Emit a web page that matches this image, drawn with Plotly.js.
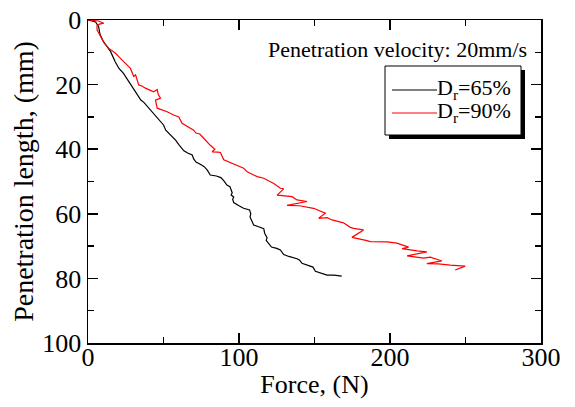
<!DOCTYPE html>
<html>
<head>
<meta charset="utf-8">
<script src="https://cdn.plot.ly/plotly-3.0.1.min.js"></script>
<style>html,body{margin:0;padding:0;background:#fff;}#chart{width:575px;height:407px;}</style>
</head>
<body>
<div id="chart"></div>
<script>
// Dr = 65 %
const force65 = [0,3,5,7,8,10,12,15,18,20.5,23.5,27,29,32.5,35,37,39,41,43.5,45,48,50,51.5,54,56,58,60,62,63.5,66,69,70,71.5,74,77,79,81,85,88,90,92,94,95.5,94.8,96.5,95.8,96.5,100,103,107,107.8,107.3,108.5,109.7,113,116.4,117,118.6,118,120.8,121.5,125,127.4,129.6,133,138.4,140,141.7,145,147.3,149,150.6,153,154.5,158.3,163,168];
const depth65 = [0,0.3,0.6,2,4.5,6.5,7.8,9.8,12.9,15,16.5,19.1,20.6,23.2,24.8,25.5,26.6,27.5,29,29.6,31.3,32.5,34.1,35.2,36.2,37.2,38.5,39.8,40.5,41.2,41.8,43,44,44.6,45.4,46.5,48,48.3,48.8,49.8,51.1,51.6,53.5,54.2,54.8,55.5,56.5,57.5,58.3,58.8,60,61,62.4,63.5,64,64.6,66,67.4,68.2,69.7,70.3,70.7,71.2,72.6,73.2,73.9,74.3,75.3,75.8,76.3,76.5,77.8,78.2,78.5,79,79,79.3];
// Dr = 90 %
const force90 = [0,4,7,10.5,8,6,6,7.2,9,10.5,13.8,18.2,21.5,24.8,28.1,30.3,31.5,33.6,36,38,42,43.5,45.8,46.5,48,44.7,45.8,48,52.4,56.8,60.1,62.3,65.6,68,70,71.5,74,76.6,79,81,84,82.2,86,87.7,89.9,94.3,98.7,101,103.1,105.4,109.7,112,116.4,118.6,123,127.4,129.6,125.2,130,135.1,138.4,145,131.8,140,149.4,151.7,157.2,152.8,158.3,161.6,167.1,169.2,173.7,175.9,182.5,174.8,184.8,187,198,204.6,212.3,208,217.9,224.4,211.3,222.3,226.7,234.3,224.4,232,239.9,249.8,243.2];
const depth90 = [0,0.1,0.3,1,1.2,1.6,3.1,4.1,5.5,7,8.8,10.3,11.9,13.4,15,17.5,17,20.1,20.5,21.1,21.8,22.2,21.5,23,24.2,24.8,27.3,27.6,28.4,29.4,30,32,33,33.5,34.1,35,35.3,36.6,38,38.8,40,40.8,40.9,41,43.3,44.2,44.9,45.5,45.9,47,48,48.5,49,49.5,50.6,52.1,52.3,54.2,54.4,54.7,55.7,56.2,57.4,57.5,58.3,58.8,59.8,61.4,61.2,61.9,62.4,62.8,64.2,64.5,65,67.3,68.3,68.6,68.7,69.1,70.3,70.8,71.5,71.8,73,73.7,73.4,74.6,75.4,75.5,75.9,76.2,77.4];

const seriesNames = ['D<sub>r</sub>=65%', 'D<sub>r</sub>=90%'];
const seriesColors = ['#000000', '#ff0000'];
const xTicks = [0, 100, 200, 300];
const yTicks = [0, 20, 40, 60, 80, 100];

const FONT = '"Liberation Serif", "Times New Roman", serif';

const traces = [
  {x: force65, y: depth65, mode: 'lines', name: seriesNames[0], line: {color: seriesColors[0], width: 1.2}, showlegend: false},
  {x: force90, y: depth90, mode: 'lines', name: seriesNames[1], line: {color: seriesColors[1], width: 1.2}, showlegend: false}
];

// plot area in px: x 88..541, y 20..343
function px(x){ return (x - 88) / 453; }
function py(y){ return (343 - y) / 323; }

const shapes = [
  // legend shadow
  {type:'rect', xref:'paper', yref:'paper', x0:px(389), x1:px(525), y0:py(139), y1:py(70), fillcolor:'#000', line:{width:0}, layer:'above'},
  // legend box
  {type:'rect', xref:'paper', yref:'paper', x0:px(385), x1:px(521), y0:py(135), y1:py(66), fillcolor:'#fff', line:{color:'#000', width:1}, layer:'above'},
  // legend samples
  {type:'line', xref:'paper', yref:'paper', x0:px(392), x1:px(437), y0:py(90), y1:py(90), line:{color:seriesColors[0], width:1.2}, layer:'above'},
  {type:'line', xref:'paper', yref:'paper', x0:px(392), x1:px(437), y0:py(113), y1:py(113), line:{color:seriesColors[1], width:1.2}, layer:'above'}
];

const annotations = [
  {xref:'paper', yref:'paper', x:px(397), y:py(49), text:'Penetration velocity: 20mm/s', showarrow:false, xanchor:'center', yanchor:'middle', font:{family:FONT, size:22, color:'#000'}},
  {xref:'paper', yref:'paper', x:px(436), y:py(89), text:seriesNames[0], showarrow:false, xanchor:'left', yanchor:'middle', borderpad:0, font:{family:FONT, size:22, color:'#000'}},
  {xref:'paper', yref:'paper', x:px(436), y:py(112), text:seriesNames[1], showarrow:false, xanchor:'left', yanchor:'middle', borderpad:0, font:{family:FONT, size:22, color:'#000'}}
];

const axisCommon = {
  showgrid: false, zeroline: false, showline: true, linecolor: '#000', linewidth: 1.5,
  mirror: 'ticks', ticks: 'inside', ticklen: 10, tickwidth: 1.5, tickcolor: '#000',
  tickfont: {family: FONT, size: 26, color: '#000'}
};

const layout = {
  width: 575, height: 407,
  margin: {l: 88, r: 34, t: 20, b: 64},
  paper_bgcolor: '#fff', plot_bgcolor: '#fff',
  showlegend: false,
  xaxis: Object.assign({}, axisCommon, {
    range: [0, 300], tickvals: xTicks, ticktext: xTicks.map(String),
    ticklabelstandoff: -10,
    minor: {dtick: 50, ticks: 'inside', ticklen: 6, tickwidth: 1.5, tickcolor: '#000'},
    title: {text: 'Force, (N)', font: {family: FONT, size: 26, color: '#000'}, standoff: 4}
  }),
  yaxis: Object.assign({}, axisCommon, {
    range: [100, 0], tickvals: yTicks, ticktext: yTicks.map(String),
    minor: {dtick: 10, ticks: 'inside', ticklen: 6, tickwidth: 1.5, tickcolor: '#000'},
    title: {text: 'Penetration length, (mm)', font: {family: FONT, size: 28, color: '#000'}, standoff: 0}
  }),
  shapes: shapes,
  annotations: annotations
};

Plotly.newPlot('chart', traces, layout, {staticPlot: true, displayModeBar: false});
</script>
</body>
</html>
